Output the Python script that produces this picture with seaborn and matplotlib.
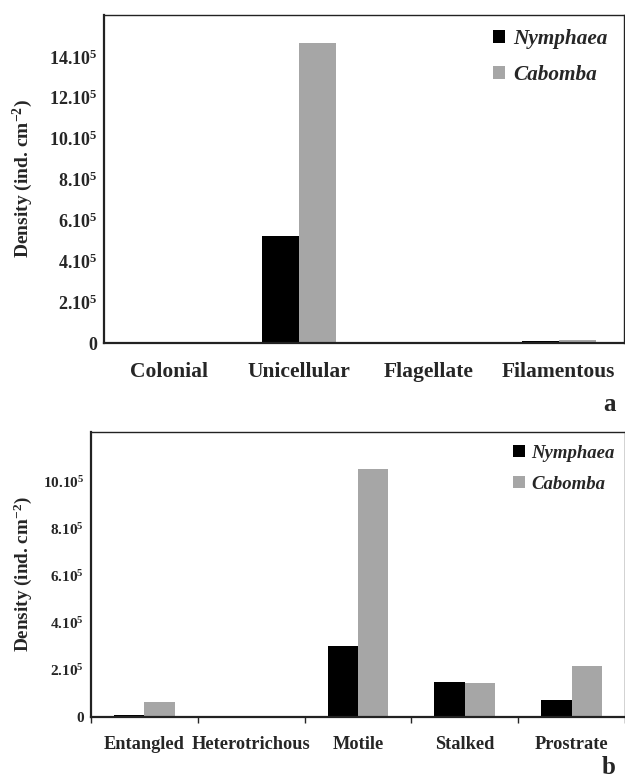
import numpy as np
import pandas as pd
import seaborn as sns
import matplotlib
matplotlib.use("Agg")
from matplotlib import pyplot as plt

# panel a: growth forms
forms_a = ["Colonial", "Unicellular", "Flagellate", "Filamentous"]
nymphaea_a = [1000, 526000, 5000, 10000]
cabomba_a = [3000, 1469000, 2000, 15000]

# panel b: attachment types
forms_b = ["Entangled", "Heterotrichous", "Motile", "Stalked", "Prostrate"]
nymphaea_b = [10000, 3000, 300000, 148000, 72000]
cabomba_b = [65000, 1000, 1054000, 144000, 216000]

species = ["Nymphaea", "Cabomba"]
colors = ["#000000", "#a6a6a6"]

sns.set_style("white")
plt.rcParams["font.family"] = ["Liberation Serif", "DejaVu Serif"]
plt.rcParams["font.weight"] = "bold"
plt.rcParams["mathtext.default"] = "regular"


def make_df(forms, nym, cab):
    d = pd.DataFrame({"form": forms * 2,
                      "species": [species[0]] * len(forms) + [species[1]] * len(forms),
                      "density": list(nym) + list(cab)})
    return d


def sci_label(v):
    if v == 0:
        return "0"
    return "%d.10$^5$" % int(round(v / 1e5))


fig = plt.figure(figsize=(6.25, 7.81), dpi=100)
ax1 = fig.add_axes([0.1664, 0.5608, 0.8316, 0.42])
ax2 = fig.add_axes([0.1456, 0.0819, 0.8544, 0.365])

settings = [
    # ax, forms, nym, cab, ymax, yticks, ticksize, xsize, labelsize, legsize, ypad, labelpad, legend x
    (ax1, forms_a, nymphaea_a, cabomba_a, 16.05e5, np.arange(0, 15e5, 2e5), 13, 15.5, 14, 15.3, 5, 10, 1.005),
    (ax2, forms_b, nymphaea_b, cabomba_b, 12.1e5, np.arange(0, 11e5, 2e5), 11, 13.2, 13.8, 13.5, 5, 6, 1.012),
]

for ax, forms, nym, cab, ymax, yt, tsize, xsize, lsize, gsize, ypad, lpad, lx in settings:
    df = make_df(forms, nym, cab)
    sns.barplot(data=df, x="form", y="density", hue="species", palette=colors,
                width=0.57, gap=0, saturation=1, ax=ax, linewidth=0)
    ax.set_ylim(0, ymax)
    ax.set_xlim(-0.5, len(forms) - 0.5)
    ax.set_yticks(yt)
    ax.set_yticklabels([sci_label(v) for v in yt], fontsize=tsize, fontweight="bold")
    ax.tick_params(axis="y", length=0, pad=ypad)
    ax.tick_params(axis="x", length=0, labelsize=xsize)
    for lab in ax.get_xticklabels():
        lab.set_fontweight("bold")
    ax.set_xlabel("")
    ax.set_ylabel("Density (ind. cm$^{-2}$)", fontsize=lsize, fontweight="bold", labelpad=lpad)
    for s in ax.spines.values():
        s.set_color("#222222")
        s.set_linewidth(1.0)
    ax.spines["left"].set_linewidth(1.6)
    ax.spines["bottom"].set_linewidth(1.6)
    ax.legend(frameon=False, loc="upper right", bbox_to_anchor=(lx, 1.015),
              prop={"family": "Liberation Serif", "style": "italic",
                    "weight": "bold", "size": gsize},
              handlelength=0.6, handleheight=0.6, handletextpad=0.35,
              labelspacing=0.75)

# panel b has tick marks between categories
ax2.set_xticks(np.arange(-0.5, len(forms_b)), minor=True)
ax2.tick_params(axis="x", which="minor", length=4, width=1, direction="out", bottom=True)
ax2.tick_params(axis="x", pad=14)
ax1.tick_params(axis="x", pad=14)

fig.text(0.985, 0.482, "a", fontsize=18, fontweight="bold", ha="right", va="center")
fig.text(0.985, 0.002, "b", fontsize=18, fontweight="bold", ha="right", va="bottom")

fig.savefig("out.png", dpi=100)
